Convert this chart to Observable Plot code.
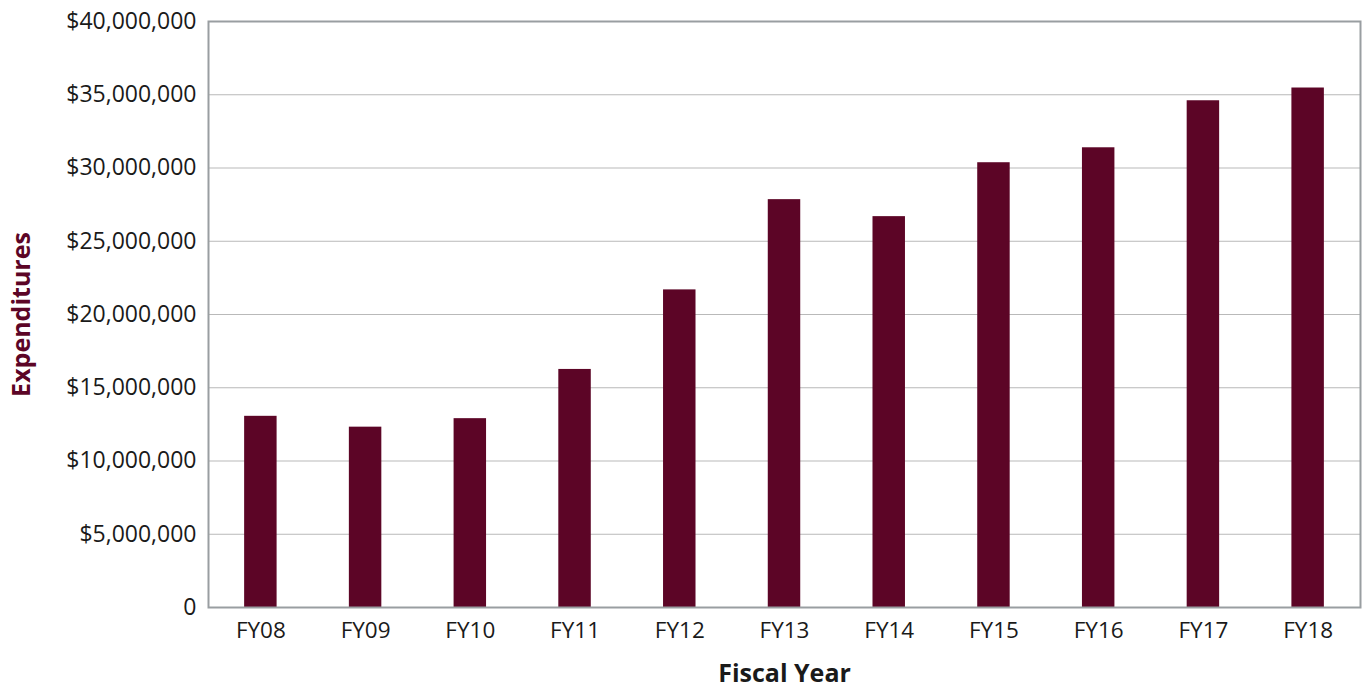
<!DOCTYPE html>
<html>
<head>
<meta charset="utf-8">
<script src="https://cdn.jsdelivr.net/npm/d3@7"></script>
<script src="https://cdn.jsdelivr.net/npm/@observablehq/plot@0.6"></script>
<style>
  html, body { margin: 0; padding: 0; background: #fff; }
  #chart svg { display: block; font-family: "Open Sans", sans-serif; }
</style>
</head>
<body>
<div id="chart"></div>
<script>
const years = ["FY08","FY09","FY10","FY11","FY12","FY13","FY14","FY15","FY16","FY17","FY18"];
const expenditures = [13050000, 12310000, 12890000, 16250000, 21680000, 27840000, 26680000, 30360000, 31380000, 34590000, 35460000];
const yTicks = [0, 5000000, 10000000, 15000000, 20000000, 25000000, 30000000, 35000000, 40000000];

const data = years.map((fy, i) => ({fy, value: expenditures[i]}));
const maroon = "#5c0526";
const fmt = d3.format(",");

const chart = Plot.plot({
  width: 1364,
  height: 687,
  marginLeft: 208,
  marginRight: 4,
  marginTop: 21,
  marginBottom: 80,
  style: {fontFamily: "Open Sans, sans-serif", background: "#fff"},
  x: {domain: years, paddingInner: 0.69, paddingOuter: 0.345, align: 0.5, round: false, label: null},
  y: {domain: [0, 40000000], label: null},
  marks: [
    Plot.gridY(yTicks.slice(1, -1), {stroke: "#b9b9b9", strokeOpacity: 1, strokeWidth: 1}),
    Plot.barY(data, {x: "fy", y: "value", fill: maroon}),
    Plot.frame({stroke: "#999ea1", strokeWidth: 2}),
    Plot.axisY({ticks: yTicks, tickSize: 0, tickPadding: 12, fontSize: 23, fill: "#1a1a1a",
      tickFormat: d => d === 0 ? "0" : "$" + fmt(d), label: null}),
    Plot.axisX({tickSize: 0, tickPadding: 15, fontSize: 22.5, fill: "#1a1a1a", label: null}),
    Plot.text(["Fiscal Year"], {frameAnchor: "bottom", dy: 66, text: d => d, fontSize: 25,
      fontWeight: "bold", fill: "#1a1a1a", textAnchor: "middle", lineAnchor: "middle"}),
    Plot.text(["Expenditures"], {frameAnchor: "left", dx: -187, text: d => d, fontSize: 25,
      fontWeight: "bold", fill: maroon, rotate: -90, textAnchor: "middle", lineAnchor: "middle"})
  ]
});
document.getElementById("chart").appendChild(chart);
</script>
</body>
</html>
